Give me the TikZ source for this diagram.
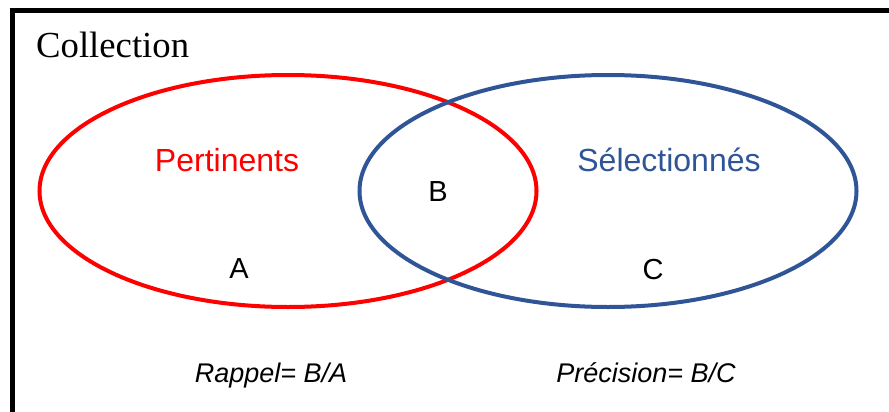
\documentclass[tikz,border=0pt]{standalone}
\usepackage{fontspec}
\setmainfont{Liberation Sans}
\newfontfamily\serifface{Liberation Serif}
\definecolor{selblue}{RGB}{47,85,151}
\definecolor{pertred}{RGB}{255,0,0}
\begin{document}
\begin{tikzpicture}[x=1pt,y=-1pt,
  setline/.style={line width=4pt},
  big/.style={font=\fontsize{32}{36}\selectfont, inner sep=0pt},
  letter/.style={font=\fontsize{29}{32}\selectfont, inner sep=0pt},
  formula/.style={font=\fontsize{27}{30}\selectfont\itshape, inner sep=0pt}]
  \useasboundingbox (0,0) rectangle (889,412);
  % frame of the collection (open to the right and bottom)
  \coordinate (fr) at (895,10.5);
  \coordinate (fc) at (12.5,10.5);
  \coordinate (fb) at (12.5,420);
  \draw[line width=5pt] (fr) -- (fc) -- (fb);
  \node[anchor=base west, inner sep=0pt, font=\serifface\fontsize{36.7}{40}\selectfont] (coll) at (36,58) {Collection};
  % the two sets
  \draw[setline, pertred] (288,191) ellipse [x radius=248.5, y radius=116];
  \draw[setline, selblue] (608,191) ellipse [x radius=248.5, y radius=116];
  \node[big, text=pertred, anchor=base] (pert) at (227,171) {Pertinents};
  \node[big, text=selblue, anchor=base] (sel) at (669,171) {Sélectionnés};
  \node[letter, anchor=base] (b) at (438,201) {B};
  \node[letter, anchor=base] (a) at (239,278) {A};
  \node[letter, anchor=base] (c) at (653,279) {C};
  \node[formula, anchor=base] (rap) at (271,382) {Rappel= B/A};
  \node[formula, anchor=base] (pre) at (646,382) {Précision= B/C};
\end{tikzpicture}
\end{document}
